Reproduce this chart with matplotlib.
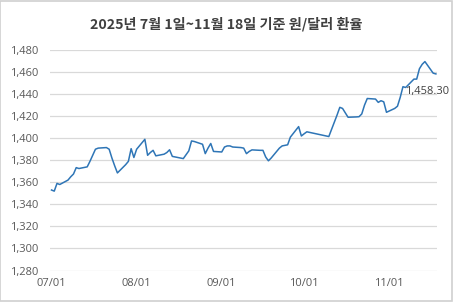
import numpy as np
import matplotlib
matplotlib.use("Agg")
import matplotlib.pyplot as plt
import matplotlib.dates as mdates
from matplotlib.patches import Rectangle
from matplotlib.ticker import FuncFormatter

plt.rcParams['font.family'] = ['Noto Sans CJK KR', 'DejaVu Sans']

# trading days (Seoul close)
jul_days = [1, 2, 3, 4, 7, 8, 9, 10, 11, 14, 15, 16, 17, 18, 21, 22, 23, 24, 25, 28, 29, 30, 31]
jul_rate = [1353, 1352, 1359, 1358, 1362, 1365, 1367.5, 1373.3, 1372.5, 1374, 1379, 1384.5, 1390, 1391,
            1391.5, 1390, 1382, 1375, 1368.5, 1376, 1379, 1390.5, 1382.5]
aug_days = [1, 4, 5, 6, 7, 8, 11, 12, 13, 14, 18, 19, 20, 21, 22, 25, 26, 27, 28, 29]
aug_rate = [1390, 1399, 1384.5, 1387, 1389, 1384, 1385.5, 1387, 1389.5, 1383.5, 1381.5, 1385, 1388.5,
            1397.5, 1397, 1394.5, 1386, 1391, 1395.2, 1388]
sep_days = [1, 2, 3, 4, 5, 8, 9, 10, 11, 12, 15, 16, 17, 18, 19, 22, 23, 24, 25, 26, 29, 30]
sep_rate = [1387.5, 1392, 1393, 1393, 1392, 1391.5, 1391, 1386, 1388, 1389.4, 1389, 1389, 1383, 1379.5,
            1382, 1391, 1393, 1393.5, 1394, 1401, 1410.5, 1402]
oct_days = [1, 2, 10, 13, 14, 15, 16, 17, 20, 21, 22, 23, 24, 27, 28, 29, 30, 31]
oct_rate = [1404, 1405.8, 1401.5, 1421, 1428, 1427, 1423, 1419, 1419.3, 1419.5, 1422, 1430, 1436,
            1435.5, 1432.5, 1434, 1433, 1423.5]
nov_days = [3, 4, 5, 6, 7, 10, 11, 12, 13, 14, 17, 18]
nov_rate = [1427, 1429, 1437, 1446.7, 1446, 1453.6, 1453.6, 1463, 1467, 1469.5, 1459, 1458.3]

y_ticks = np.arange(1280, 1481, 20)
x_ticks = ['2025-07-01', '2025-08-01', '2025-09-01', '2025-10-01', '2025-11-01']
title = '2025년 7월 1일~11월 18일 기준 원/달러 환율'

dates = []
rates = []
for month, days, vals in [(7, jul_days, jul_rate), (8, aug_days, aug_rate), (9, sep_days, sep_rate),
                          (10, oct_days, oct_rate), (11, nov_days, nov_rate)]:
    dates += [np.datetime64('2025-%02d-%02d' % (month, d)) for d in days]
    rates += vals
dates = np.array(dates, dtype='datetime64[D]')
rates = np.array(rates)

fig = plt.figure(figsize=(4.53, 3.02), dpi=100)
ax = fig.add_axes([50 / 453, 31.5 / 302, 387 / 453, 220.5 / 302])

ax.plot(mdates.date2num(dates), rates, color='#2e75b6', lw=1.1, solid_joinstyle='round')

x0 = mdates.date2num(np.datetime64('2025-07-01'))
x1 = mdates.date2num(np.datetime64('2025-11-18'))
ax.set_xlim(x0 - 0.55, x1 + 0.4)
ax.set_ylim(1280, 1480)
ax.set_yticks(y_ticks)
ax.yaxis.set_major_formatter(FuncFormatter(lambda v, p: '{:,.0f}'.format(v)))
ax.set_xticks([mdates.date2num(np.datetime64(d)) for d in x_ticks])
ax.xaxis.set_major_formatter(mdates.DateFormatter('%m/%d'))

ax.grid(axis='y', color='#d9d9d9', lw=0.9)
ax.set_axisbelow(True)
for s in ax.spines.values():
    s.set_visible(False)
ax.tick_params(axis='both', length=0, labelsize=8, labelcolor='#595959')
ax.tick_params(axis='y', pad=8.5)
ax.tick_params(axis='x', pad=5.5)
for lab in ax.get_xticklabels() + ax.get_yticklabels():
    lab.set_fontfamily(['Open Sans', 'DejaVu Sans'])

# last value label
ax.annotate('{:,.2f}'.format(rates[-1]), xy=(mdates.date2num(dates[-1]), rates[-1]),
            xytext=(-22, -13), textcoords='offset points', ha='left', va='center',
            fontsize=8, color='#404040', family=['Open Sans', 'DejaVu Sans'])

fig.text(0.5, 1 - 24 / 302, title, ha='center', va='center', fontsize=10.2, fontweight='bold',
         color='#404040')

fig.patches.append(Rectangle((0.001, 0.002), 0.997, 0.995, transform=fig.transFigure,
                             fill=False, edgecolor='#d0d0d0', lw=1.2))

fig.savefig('out.png', dpi=100)
